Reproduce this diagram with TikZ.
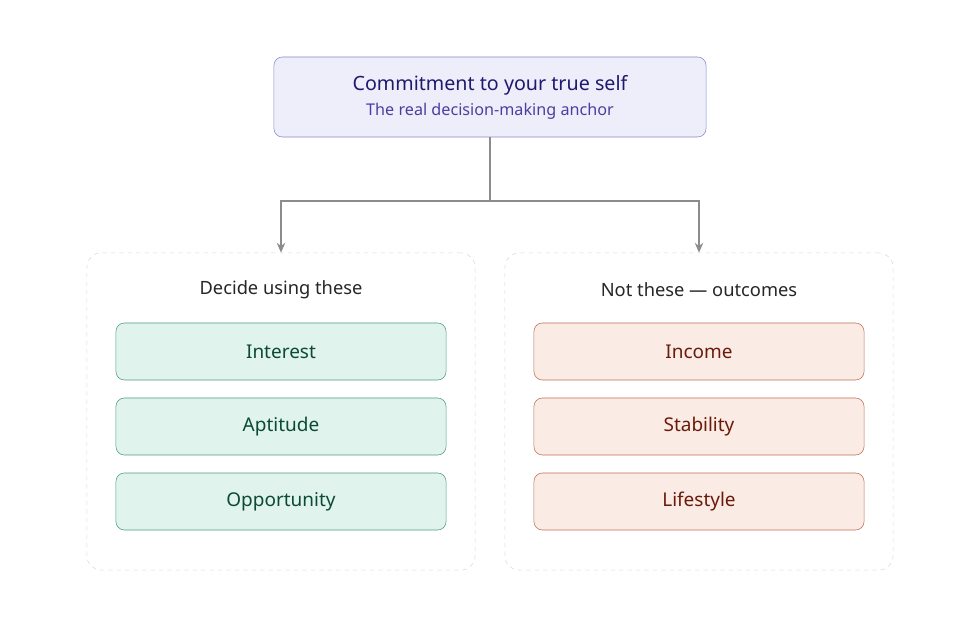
\documentclass[tikz,border=0pt]{standalone}
\usepackage{fontspec}
\setmainfont{Noto Sans}
\usetikzlibrary{positioning,arrows.meta}
\definecolor{topfill}{HTML}{EEEEFB}
\definecolor{topdraw}{HTML}{8B87D0}
\definecolor{toptext}{HTML}{1F1A6E}
\definecolor{topsub}{HTML}{4A3FA0}
\definecolor{goodfill}{HTML}{E0F3EC}
\definecolor{gooddraw}{HTML}{4E9E80}
\definecolor{goodtext}{HTML}{0B4A35}
\definecolor{badfill}{HTML}{FAEBE5}
\definecolor{baddraw}{HTML}{C0705A}
\definecolor{badtext}{HTML}{6B1A0A}
\tikzset{
	anchorbox/.style={rectangle,
		draw=topdraw,
		fill=topfill,
		rounded corners=6pt,
		minimum width=10.8cm,
		minimum height=2cm,
		align=center,
		},
	panel/.style={rectangle,
		draw=black!15,
		dashed,
		rounded corners=10pt,
		minimum width=9.7cm,
		minimum height=7.925cm,
		},
	heading/.style={font=\fontsize{13}{15}\selectfont, text=black!85},
	good/.style={rectangle,
		draw=gooddraw,
		fill=goodfill,
		rounded corners=6pt,
		minimum width=8.25cm,
		minimum height=1.425cm,
		text=goodtext,
		font=\fontsize{13.5}{15}\selectfont,
		},
	bad/.style={good,
		draw=baddraw,
		fill=badfill,
		text=badtext,
		},
	link/.style={draw=black!45, line width=1.2pt, -{Stealth[length=7pt,width=6pt]}},
}
\begin{document}
\begin{tikzpicture}[x=0.025cm,y=-0.025cm]
   \useasboundingbox (0,0) rectangle (980,628);

   \node[anchorbox] (self) at (490,97) {};
   \node[text=toptext, font=\fontsize{14}{16}\selectfont] (selftitle) at (490,85) {Commitment to your true self};
   \node[text=topsub, font=\fontsize{11.5}{13}\selectfont] (selfsub) at (490,111) {The real decision-making anchor};

   \node[panel] (left) at (281,411.5) {};
   \node[panel] (right) at (699,411.5) {};
   \node[heading] (lefthead) at (281,290) {Decide using these};
   \node[heading] (righthead) at (699,290) {Not these — outcomes};

   % left column
   \node[good] (interest) at (281,351.5) {Interest};
   \node[good] (aptitude) at (281,426.5) {Aptitude};
   \node[good] (opportunity) at (281,501.5) {Opportunity};

   % right column
   \node[bad] (income) at (699,351.5) {Income};
   \node[bad] (stability) at (699,426.5) {Stability};
   \node[bad] (lifestyle) at (699,501.5) {Lifestyle};

   \coordinate (split) at (490,201);
   \draw[link] (self.south) -- (split) -| (left.north);
   \draw[link] (split) -| (right.north);
\end{tikzpicture}
\end{document}
